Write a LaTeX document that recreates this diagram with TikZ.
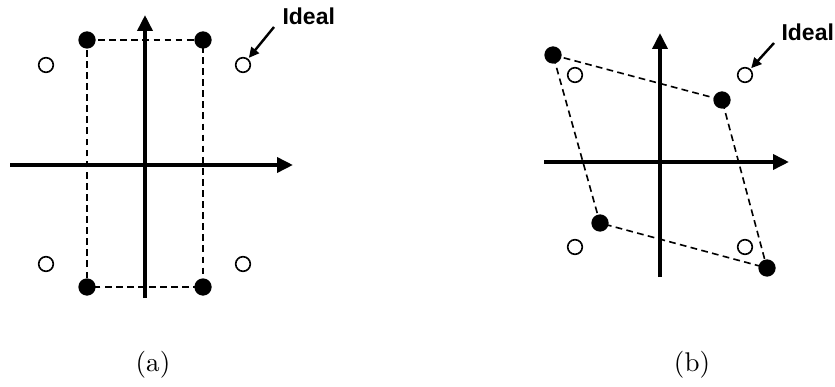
\documentclass[tikz,border=0pt]{standalone}
\usepackage{fontspec}
\newfontfamily\tagfont{Liberation Sans}
\usetikzlibrary{arrows.meta}

\begin{document}
\begin{tikzpicture}[x=0.013cm, y=-0.013cm,
    axis/.style={line width=1.4pt, -{Triangle[length=5.9pt, width=5.5pt]}},
    sample/.style={circle, fill, inner sep=0pt, minimum size=6.4pt},
    ideal/.style={circle, draw, line width=0.6pt, inner sep=0pt, minimum size=5.4pt},
    link/.style={line width=0.6pt, dash pattern=on 2.5pt off 1.6pt},
    pointer/.style={line width=0.9pt, -{Triangle[length=3.8pt, width=3.6pt]}},
    tag/.style={font=\tagfont\bfseries\fontsize{8.5}{10}\selectfont, anchor=base west, inner sep=0pt},
    caption/.style={font=\fontsize{10}{12}\selectfont, anchor=base, inner sep=0pt}]
  \useasboundingbox (0,0) rectangle (835,387);

  % (a) rectangle
  \coordinate (ax0) at (10,165);  \coordinate (ax1) at (293,165);
  \coordinate (ay0) at (145,298); \coordinate (ay1) at (145,15);
  \node[ideal] (ia1) at (46,65) {};
  \node[ideal] (ia2) at (243,65) {};
  \node[ideal] (ia3) at (46,264) {};
  \node[ideal] (ia4) at (243,264) {};
  \draw[link] (87,40) -- (203,40) -- (203,287) -- (87,287) -- cycle;
  \draw[axis] (ax0) -- (ax1);
  \draw[axis] (ay0) -- (ay1);
  \node[sample] (sa1) at (87,40) {};
  \node[sample] (sa2) at (203,40) {};
  \node[sample] (sa3) at (203,287) {};
  \node[sample] (sa4) at (87,287) {};
  \node[tag] (taga) at (282,25) {Ideal};
  \coordinate (pa) at (274,27);
  \draw[pointer, shorten >=0.4pt] (pa) -- (ia2);
  \node[caption] (capa) at (153,371) {(a)};

  % (b) skewed
  \coordinate (bx0) at (544,162); \coordinate (bx1) at (789,162);
  \coordinate (by0) at (660,277); \coordinate (by1) at (660,33);
  \node[ideal] (ib1) at (575,75) {};
  \node[ideal] (ib2) at (745,75) {};
  \node[ideal] (ib3) at (575,247) {};
  \node[ideal] (ib4) at (745,247) {};
  \draw[link] (553,55) -- (722,100) -- (767,268) -- (600,223) -- cycle;
  \draw[axis] (bx0) -- (bx1);
  \draw[axis] (by0) -- (by1);
  \node[sample] (sb1) at (553,55) {};
  \node[sample] (sb2) at (722,100) {};
  \node[sample] (sb3) at (767,268) {};
  \node[sample] (sb4) at (600,223) {};
  \node[tag] (tagb) at (781,41) {Ideal};
  \coordinate (pb) at (774,43);
  \draw[pointer, shorten >=0.4pt] (pb) -- (ib2);
  \node[caption] (capb) at (692,371) {(b)};
\end{tikzpicture}
\end{document}
